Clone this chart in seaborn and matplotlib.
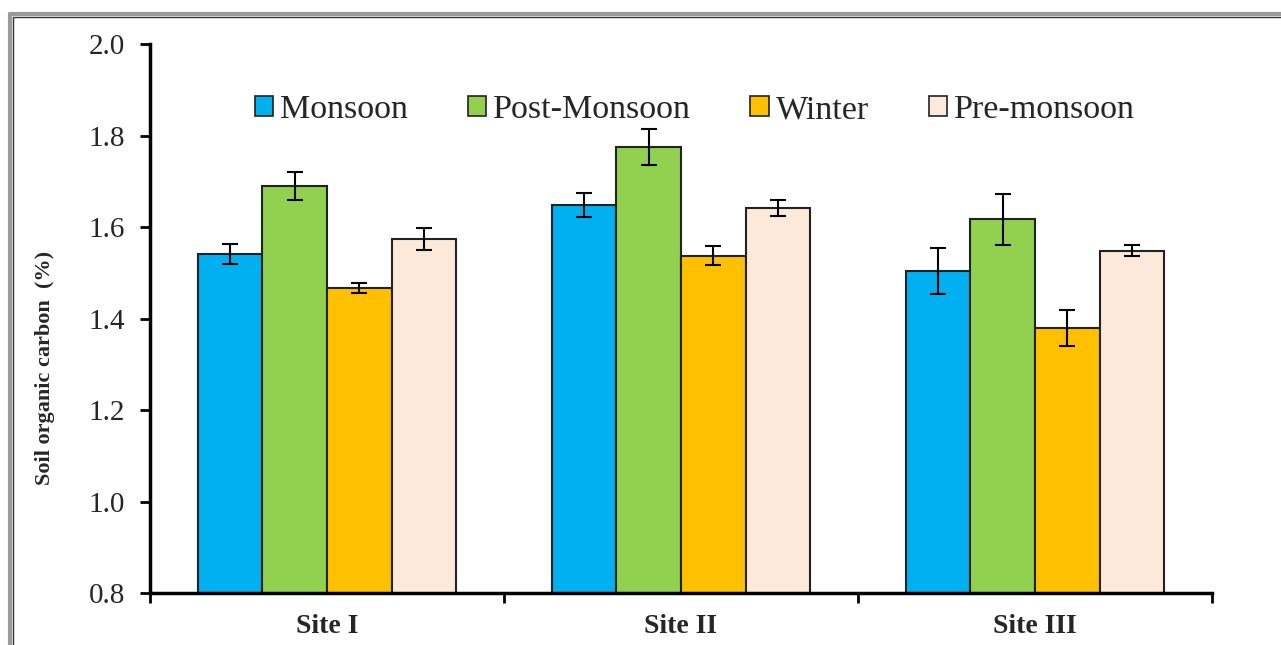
import numpy as np
import pandas as pd
import seaborn as sns
import matplotlib.pyplot as plt
from matplotlib.lines import Line2D

sites = ['Site I', 'Site II', 'Site III']
seasons = ['Monsoon', 'Post-Monsoon', 'Winter', 'Pre-monsoon']
colors = ['#00B0F0', '#92D050', '#FFC000', '#FDE9D9']

# mean soil organic carbon (%) per season, one value per site
monsoon = [1.541, 1.648, 1.504]
post_monsoon = [1.690, 1.775, 1.617]
winter = [1.467, 1.537, 1.379]
pre_monsoon = [1.574, 1.642, 1.548]

# standard errors
monsoon_err = [0.021, 0.026, 0.051]
post_monsoon_err = [0.030, 0.039, 0.056]
winter_err = [0.011, 0.021, 0.039]
pre_monsoon_err = [0.024, 0.017, 0.012]

means = [monsoon, post_monsoon, winter, pre_monsoon]
errs = [monsoon_err, post_monsoon_err, winter_err, pre_monsoon_err]

rows = []
for s, vals, ers in zip(seasons, means, errs):
    for site, v, e in zip(sites, vals, ers):
        rows.append({'Site': site, 'Season': s, 'SOC': v, 'err': e})
df = pd.DataFrame(rows)

sns.set_style('white')
plt.rcParams['font.family'] = ['Liberation Serif', 'DejaVu Serif']

fig = plt.figure(figsize=(12.81, 6.45), dpi=100)
ax = fig.add_axes([150 / 1281, 52 / 645, 1062 / 1281, 549 / 645])

sns.barplot(data=df, x='Site', y='SOC', hue='Season', order=sites,
            hue_order=seasons, palette=colors, width=0.73, errorbar=None,
            edgecolor='#222222', linewidth=1.5, saturation=1, ax=ax)

# error bars placed on the bar centres
for container, s in zip(ax.containers, seasons):
    sub = df[df['Season'] == s].set_index('Site').loc[sites]
    xs = [b.get_x() + b.get_width() / 2 for b in container]
    ax.errorbar(xs, sub['SOC'], yerr=sub['err'], fmt='none', ecolor='black',
                elinewidth=1.5, capsize=6, capthick=1.5, zorder=5)

ax.set_ylim(0.8, 2.0)
ax.set_xlim(-0.5, 2.5)
ax.set_yticks(np.arange(0.8, 2.01, 0.2))
ax.set_yticklabels([f'{v:.1f}' for v in np.arange(0.8, 2.01, 0.2)], fontsize=21)
ax.set_xticks([0, 1, 2])
ax.set_xticklabels(sites, fontsize=20, fontweight='bold')
ax.set_xticks([-0.5, 0.5, 1.5, 2.5], minor=True)
ax.tick_params(axis='x', which='major', length=0, pad=15, bottom=False)
ax.tick_params(axis='x', which='minor', length=7, width=2, color='black',
               direction='out', bottom=True)
ax.tick_params(axis='y', length=7, width=2, color='black', direction='out',
               pad=11, left=True)
ax.set_xlabel('')
ax.set_ylabel('Soil organic carbon  (%)', fontsize=16, fontweight='bold')
ax.yaxis.set_label_coords(-0.089, 0.41)

for side in ['top', 'right']:
    ax.spines[side].set_visible(False)
for side in ['left', 'bottom']:
    ax.spines[side].set_color('black')
    ax.spines[side].set_linewidth(2.5)

handles = [plt.Rectangle((0, 0), 1, 1, facecolor=c, edgecolor='#222222', linewidth=1.2)
           for c in colors]
ax.legend(handles, seasons, loc='center', bbox_to_anchor=(0.513, 0.88), ncol=4,
          frameon=False, fontsize=24.5, handlelength=0.55, handleheight=0.55,
          handletextpad=0.2, columnspacing=1.75, borderpad=0)

# outer frame of the picture
fig.add_artist(Line2D([10 / 1281, 1], [1 - 14 / 645, 1 - 14 / 645], color='#9a9a9a',
                      linewidth=3, transform=fig.transFigure))
fig.add_artist(Line2D([10 / 1281, 10 / 1281], [0, 1 - 14 / 645], color='#9a9a9a',
                      linewidth=3, transform=fig.transFigure))
fig.add_artist(Line2D([13 / 1281, 1], [1 - 17 / 645, 1 - 17 / 645], color='#333333',
                      linewidth=1, transform=fig.transFigure))
fig.add_artist(Line2D([13 / 1281, 13 / 1281], [0, 1 - 17 / 645], color='#333333',
                      linewidth=1, transform=fig.transFigure))

fig.savefig('out.png', dpi=100)
